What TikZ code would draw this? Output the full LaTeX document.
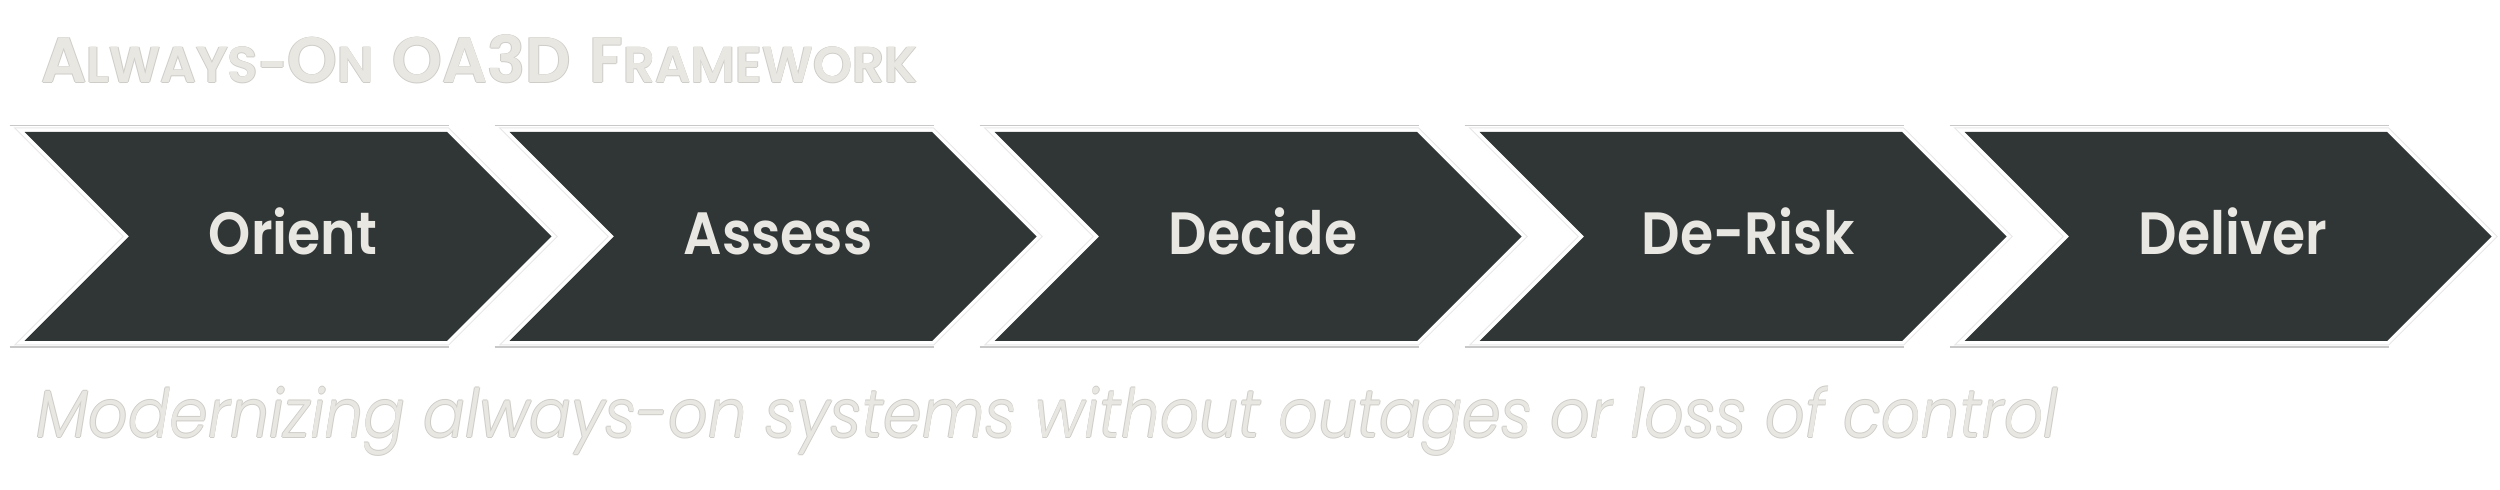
\documentclass[tikz,border=0pt]{standalone}
\usepackage{fontspec}
\usepackage{graphicx}
\setmainfont{Poppins}
\newfontfamily\lblfont{Poppins SemiBold}
\newfontfamily\titlefont{Poppins SemiBold}
\newfontfamily\subfont{Poppins Light Italic}
\definecolor{chevfill}{HTML}{303536}
\definecolor{beige}{HTML}{E9E7E2}
\definecolor{hgrey}{HTML}{CFCDC8}
\definecolor{rulegrey}{HTML}{C8C8C8}
\newcommand\halo[1]{\leavevmode
  \rlap{\color{hgrey}\hspace{-0.22pt}#1}%
  \rlap{\color{hgrey}\hspace{0.22pt}#1}%
  \rlap{\color{hgrey}\raisebox{0.22pt}{#1}}%
  \rlap{\color{hgrey}\raisebox{-0.22pt}{#1}}%
  {\color{beige}#1}}
\newcommand\bigc[1]{{\fontsize{20.2}{22}\selectfont #1}}
\newcommand\smc[1]{{\fontsize{15.9}{18}\selectfont #1}}
\tikzset{
  chevshape/.style={fill=chevfill},
  chevhalo/.style={draw=black!9,line width=2.7pt},
  chevwhite/.style={draw=white,line width=2.1pt},
  rule/.style={draw=rulegrey,line width=0.5pt},
  lbl/.style={anchor=base,inner sep=0pt,text=beige,font=\lblfont\fontsize{17.9}{20}\selectfont},
  heading/.style={anchor=base west,inner sep=0pt},
}
\begin{document}
\begin{tikzpicture}[x=0.3pt,y=-0.3pt]
\useasboundingbox (0,0) rectangle (2500,490);
\fill[white] (0,0) rectangle (2500,490);
\foreach \i/\lab in {0/Orient,1/Assess,2/Decide,3/De-Risk,4/Deliver} {
  \pgfmathsetmacro\L{24.5+485*\i}
  \coordinate (tl\i) at (\L,132);
  \foreach \sty in {chevhalo,chevwhite,chevshape}{
    \path[\sty] (tl\i) -- ++(422.5,0) -- ++(104.5,104.5) -- ++(-104.5,104.5)
      -- ++(-422.5,0) -- ++(104.5,-104.5) -- cycle;
  }
  \coordinate (ra\i) at (\L-15,125.5);
  \coordinate (rb\i) at (\L+424.5,125.5);
  \coordinate (rc\i) at (\L-15,347);
  \coordinate (rd\i) at (\L+424.5,347);
  \draw[rule] (ra\i) -- (rb\i);
  \draw[rule] (rc\i) -- (rd\i);
  \node[lbl] (n\i) at (\L+268.5,255) {\scalebox{0.9}[1]{\lab}};
}
\node[heading] (title) at (40.7,83) {\halo{\resizebox{262.8pt}{14.3pt}{\titlefont\bigc{A}\smc{LWAYS-}\bigc{O}\smc{N}\hspace{6pt}\bigc{OA3D}\hspace{6pt}\bigc{F}\smc{RAMEWORK}}}};
\node[heading] (sub) at (36,437.7) {\halo{\resizebox{606.3pt}{15.2pt}{\subfont\fontsize{20.5}{24}\selectfont Modernizing always-on systems without outages or loss of control}}};
\end{tikzpicture}
\end{document}
